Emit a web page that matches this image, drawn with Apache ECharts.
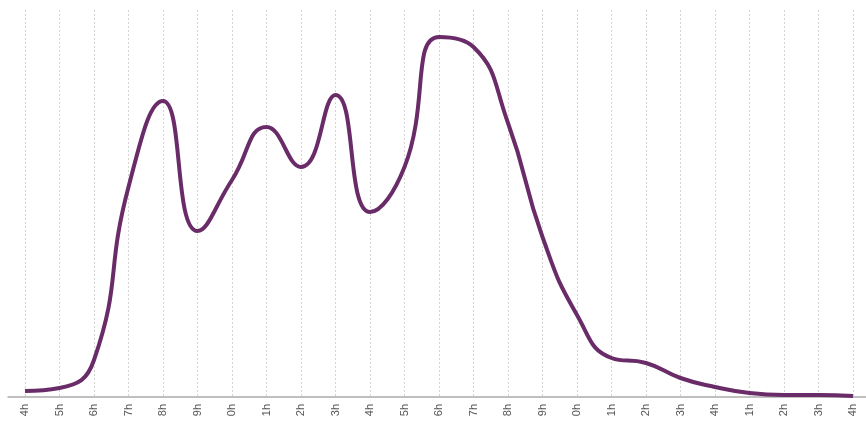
<!DOCTYPE html>
<html><head><meta charset="utf-8">
<script src="https://cdn.jsdelivr.net/npm/echarts@6/dist/echarts.min.js"></script>
<style>html,body{margin:0;padding:0;background:#fff}#c{width:866px;height:421px}</style>
</head><body><div id="c"></div>
<script>
var tickLabels = ['4h','5h','6h','7h','8h','9h','0h','1h','2h','3h','4h','5h','6h','7h','8h','9h','0h','1h','2h','3h','4h','1h','2h','3h','4h'];
// one value per hour
var yVal = [6,9,37,210,296,166,217,270,230,302,185,230,360,350,274,160,82,39,34,19,10,4,2,2,1];
var pts = yVal.map(function(v,i){return [i,v];});
var chart = echarts.init(document.getElementById('c'));
chart.setOption({
  animation:false,
  grid:[{left:25,right:13,top:10,bottom:24},{left:8,right:0,top:10,bottom:24}],
  xAxis:[{
    type:'value',min:0,max:24,interval:1,gridIndex:0,
    axisLine:{show:false},axisTick:{show:false},
    splitLine:{show:true,lineStyle:{color:'#d4d4d4',type:[2,2],width:1}},
    axisLabel:{rotate:90,color:'#555',fontSize:11,fontFamily:'Liberation Sans, Arial, sans-serif',margin:7,
      formatter:function(v){return tickLabels[Math.round(v)];}}
  },{
    type:'value',min:0,max:1,gridIndex:1,
    axisLine:{show:true,onZero:false,lineStyle:{color:'#aaa',width:1.5}},
    axisTick:{show:false},axisLabel:{show:false},splitLine:{show:false}
  }],
  yAxis:[{type:'value',min:0,max:387,gridIndex:0,show:false,splitLine:{show:false}},
         {type:'value',min:0,max:1,gridIndex:1,show:false}],
  series:[{type:'line',xAxisIndex:0,yAxisIndex:0,data:pts,smooth:0.5,showSymbol:false,
    lineStyle:{color:'#6a2c68',width:4},itemStyle:{color:'#6a2c68'}}]
});
</script></body></html>
